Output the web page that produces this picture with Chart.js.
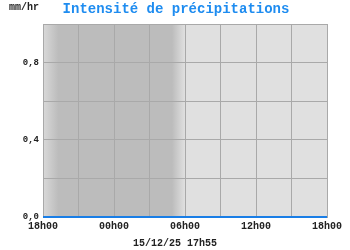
<!DOCTYPE html>
<html>
<head>
<meta charset="utf-8">
<script src="https://cdn.jsdelivr.net/npm/chart.js@4/dist/chart.umd.min.js"></script>
<style>
  html, body { margin: 0; padding: 0; background: #fff; }
  #wrap { width: 350px; height: 250px; }
</style>
</head>
<body>
<div id="wrap"><canvas id="rainChart"></canvas></div>
<script>
// hours since start of window (18h00 the day before)
const hours = [0, 3, 6, 9, 12, 15, 18, 21, 24]
const rain = [0, 0, 0, 0, 0, 0, 0, 0, 0]
const hourLabels = ["18h00", "00h00", "06h00", "12h00", "18h00"]
const yTicks = [0, 0.2, 0.4, 0.6, 0.8, 1.0]
// night band in hours: dusk fade, full dark, dawn fade
const dusk = [-0.3, 1.3]
const dawn = [10.9, 12.0]

const title = "Intensité de précipitations"
const unit = "mm/hr"
const stamp = "15/12/25 17h55"

let colors = {
  LIGHT: "#e0e0e0",
  DARK: "#bcbcbc",
  GRID: "#a9a9a9",
  LINE: "#1a7ee6",
  TITLE: "#1e8cf0",
  TEXT: "#222222"
}

const backdrop = {
  id: 'backdrop',
  beforeDraw(chart) {
    const { ctx, chartArea: a, scales: { x } } = chart
    ctx.save()
    ctx.fillStyle = colors.LIGHT
    ctx.fillRect(a.left, a.top, a.right - a.left, a.bottom - a.top)
    const x0 = x.getPixelForValue(dusk[0])
    const x1 = x.getPixelForValue(dusk[1])
    const x2 = x.getPixelForValue(dawn[0])
    const x3 = x.getPixelForValue(dawn[1])
    const g = ctx.createLinearGradient(x0, 0, x3, 0)
    const span = x3 - x0
    g.addColorStop(0, colors.LIGHT)
    g.addColorStop((x1 - x0) / span, colors.DARK)
    g.addColorStop((x2 - x0) / span, colors.DARK)
    g.addColorStop(1, colors.LIGHT)
    ctx.beginPath()
    ctx.rect(a.left, a.top, a.right - a.left, a.bottom - a.top)
    ctx.clip()
    ctx.fillStyle = g
    ctx.fillRect(x0, a.top, x3 - x0, a.bottom - a.top)
    ctx.restore()
  },
  afterDraw(chart) {
    const { ctx, width } = chart
    ctx.save()
    ctx.textBaseline = 'middle'
    ctx.textAlign = 'center'
    ctx.fillStyle = colors.TITLE
    ctx.font = 'bold 14px "Liberation Mono"'
    ctx.fillText(title, width / 2 + 1, 9)
    ctx.fillStyle = colors.TEXT
    ctx.font = 'bold 10px "Liberation Mono"'
    ctx.textAlign = 'left'
    ctx.fillText(unit, 9, 7)
    ctx.textAlign = 'center'
    ctx.fillText(stamp, width / 2, 243)
    ctx.restore()
  }
}

const ctx = document.getElementById("rainChart")

new Chart(ctx, {
  type: 'line',
  data: {
    datasets: [{
      data: hours.map((h, i) => ({ x: h, y: rain[i] })),
      borderColor: colors.LINE,
      borderWidth: 2,
      pointRadius: 0,
      fill: false,
      clip: 4
    }]
  },
  options: {
    responsive: true,
    maintainAspectRatio: false,
    animation: false,
    events: [],
    layout: { padding: { top: 24, left: 0, right: 23, bottom: 0 } },
    plugins: {
      legend: { display: false },
      tooltip: { enabled: false }
    },
    scales: {
      x: {
        type: 'linear',
        min: 0,
        max: 24,
        afterBuildTicks: s => { s.ticks = hours.map(v => ({ value: v })) },
        afterFit: s => { s.height = 33 },
        grid: { color: colors.GRID, drawTicks: false },
        border: { color: colors.GRID },
        ticks: {
          padding: 3,
          maxRotation: 0,
          autoSkip: false,
          color: colors.TEXT,
          font: { family: 'Liberation Mono', weight: 'bold', size: 10 },
          callback: v => (v % 6 === 0 ? hourLabels[v / 6] : '')
        }
      },
      y: {
        min: 0,
        max: 1,
        afterBuildTicks: s => { s.ticks = yTicks.map(v => ({ value: v })) },
        afterFit: s => { s.width = 43 },
        grid: { color: colors.GRID, drawTicks: false },
        border: { color: colors.GRID },
        ticks: {
          padding: 4,
          color: colors.TEXT,
          font: { family: 'Liberation Mono', weight: 'bold', size: 9 },
          callback: v => {
            const r = Math.round(v * 10)
            return r % 4 === 0 && r < 10 ? (r / 10).toFixed(1).replace('.', ',') : ''
          }
        }
      }
    }
  },
  plugins: [backdrop]
})
</script>
</body>
</html>
